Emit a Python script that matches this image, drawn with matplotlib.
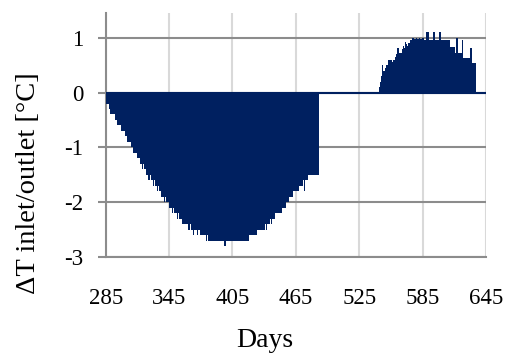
import numpy as np
import matplotlib
matplotlib.use("Agg")
import matplotlib.pyplot as plt

# daily temperature difference between inlet and outlet
cool_days = np.arange(286, 487)
cool_dt = [
    -0.2, -0.2, -0.2, -0.3, -0.4, -0.4, -0.4, -0.4, -0.5, -0.5,
    -0.6, -0.6, -0.6, -0.6, -0.7, -0.7, -0.7, -0.7, -0.8, -0.8,
    -0.9, -0.9, -0.9, -1.0, -1.0, -1.1, -1.1, -1.1, -1.1, -1.2,
    -1.2, -1.2, -1.3, -1.3, -1.4, -1.3, -1.4, -1.4, -1.5, -1.5,
    -1.6, -1.5, -1.6, -1.6, -1.7, -1.6, -1.7, -1.7, -1.8, -1.7,
    -1.8, -1.8, -1.9, -1.9, -1.9, -2.0, -1.9, -2.0, -2.0, -2.1,
    -2.1, -2.1, -2.2, -2.1, -2.2, -2.2, -2.2, -2.3, -2.2, -2.3,
    -2.3, -2.3, -2.4, -2.4, -2.4, -2.4, -2.4, -2.5, -2.5, -2.4,
    -2.5, -2.5, -2.6, -2.5, -2.5, -2.5, -2.6, -2.5, -2.5, -2.6,
    -2.6, -2.6, -2.6, -2.6, -2.7, -2.6, -2.7, -2.7, -2.7, -2.7,
    -2.7, -2.7, -2.7, -2.7, -2.7, -2.7, -2.7, -2.7, -2.7, -2.7,
    -2.7, -2.8, -2.8, -2.7, -2.7, -2.7, -2.7, -2.7, -2.7, -2.7,
    -2.7, -2.7, -2.7, -2.7, -2.7, -2.7, -2.7, -2.7, -2.7, -2.7,
    -2.7, -2.7, -2.7, -2.7, -2.7, -2.6, -2.6, -2.6, -2.6, -2.6,
    -2.6, -2.6, -2.6, -2.5, -2.5, -2.5, -2.5, -2.5, -2.5, -2.5,
    -2.4, -2.5, -2.4, -2.4, -2.4, -2.3, -2.4, -2.3, -2.3, -2.3,
    -2.2, -2.2, -2.2, -2.2, -2.2, -2.2, -2.1, -2.1, -2.1, -2.1,
    -2.0, -2.0, -2.0, -1.9, -1.9, -1.9, -1.9, -1.8, -1.8, -1.8,
    -1.8, -1.8, -1.7, -1.7, -1.7, -1.7, -1.6, -1.8, -1.6, -1.6,
    -1.6, -1.5, -1.5, -1.5, -1.5, -1.5, -1.5, -1.5, -1.5, -1.5,
    -1.5,
]
heat_days = np.arange(544, 636)
heat_dt = [
    0.1, 0.2, 0.3, 0.5, 0.4, 0.4, 0.45, 0.5, 0.5, 0.6,
    0.6, 0.6, 0.55, 0.6, 0.6, 0.65, 0.7, 0.82, 0.82, 0.72,
    0.72, 0.72, 0.8, 0.85, 0.82, 0.92, 0.88, 0.85, 0.9, 0.95,
    0.95, 1.0, 1.0, 0.97, 0.97, 1.0, 0.97, 0.97, 1.0, 0.97,
    0.97, 1.0, 1.0, 0.96, 0.96, 1.1, 1.1, 0.96, 0.96, 0.96,
    0.96, 1.1, 1.1, 0.96, 0.96, 0.96, 0.96, 1.1, 1.1, 0.96,
    0.96, 0.96, 0.96, 0.96, 0.96, 0.96, 0.96, 0.83, 0.83, 0.83,
    0.83, 0.83, 0.72, 0.99, 0.99, 0.72, 0.72, 0.72, 0.72, 0.96,
    0.63, 0.63, 0.63, 0.63, 0.63, 0.63, 0.81, 0.81, 0.54, 0.54,
    0.54, 0.54,
]
x_ticks = [285, 345, 405, 465, 525, 585, 645]
y_ticks = [-3, -2, -1, 0, 1]

navy = "#002060"
plt.rcParams["font.family"] = ["Liberation Serif", "DejaVu Serif"]
plt.rcParams["axes.unicode_minus"] = False

fig = plt.figure(figsize=(5.08, 3.53), dpi=100)
ax = fig.add_axes([0.208, 0.272, 0.749, 0.691])

ax.bar(cool_days, cool_dt, width=1.0, color=navy, linewidth=0, zorder=3)
ax.bar(heat_days, heat_dt, width=1.0, color=navy, linewidth=0, zorder=3)
ax.axhline(0, color=navy, lw=1.5, zorder=4)

ax.set_xlim(285, 645)
ax.set_ylim(-3, 1.45)
ax.set_xticks(x_ticks)
ax.set_yticks(y_ticks)

ax.set_axisbelow(True)
ax.grid(axis="x", color="#d9d9d9", lw=1.5)
ax.grid(axis="y", color="#8c8c8c", lw=1.5)

for s in ["top", "right"]:
    ax.spines[s].set_visible(False)
for s in ["left", "bottom"]:
    ax.spines[s].set_color("#8c8c8c")
    ax.spines[s].set_linewidth(1.5)

ax.tick_params(axis="x", length=0, pad=22, labelsize=16.5)
ax.tick_params(axis="y", length=6, width=1.5, color="#8c8c8c", pad=10, labelsize=16.5)

ax.set_xlabel("Days", fontsize=20)
ax.xaxis.set_label_coords(0.419, -0.29)
ax.set_ylabel("ΔT inlet/outlet [°C]", fontsize=20.5)
ax.yaxis.set_label_coords(-0.17, 0.303)

fig.savefig("out.png", dpi=100)
